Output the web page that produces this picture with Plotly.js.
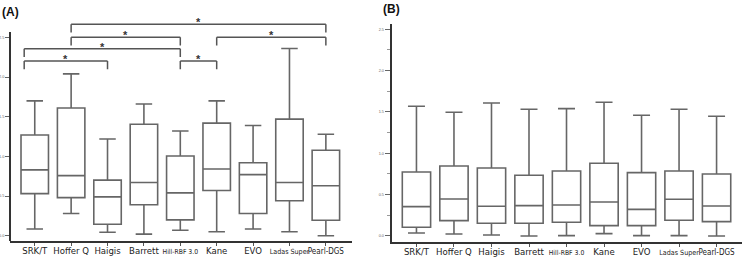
<!DOCTYPE html>
<html><head><meta charset="utf-8">
<script src="https://cdn.plot.ly/plotly-3.0.1.min.js"></script>
<style>html,body{margin:0;padding:0;background:#fff}#chart{width:744px;height:258px}</style>
</head><body><div id="chart"></div>
<script>
const categories = ['SRK/T','Hoffer Q','Haigis','Barrett','Hill-RBF 3.0','Kane','EVO','Ladas Super','Pearl-DGS'];

// Panel A
const aLower  = [0.085, 0.28, 0.043, 0.02, 0.068, 0.05, 0.085, 0.05, 0.0];
const aQ1     = [0.53, 0.48, 0.144, 0.39, 0.20, 0.57, 0.28, 0.44, 0.194];
const aMedian = [0.83, 0.757, 0.49, 0.67, 0.54, 0.84, 0.77, 0.67, 0.63];
const aQ3     = [1.27, 1.61, 0.70, 1.405, 1.005, 1.42, 0.92, 1.47, 1.077];
const aUpper  = [1.70, 2.04, 1.22, 1.66, 1.32, 1.70, 1.39, 2.36, 1.28];

// Panel B
const bLower  = [0.036, 0.024, 0.012, 0.0, 0.004, 0.028, 0.004, 0.004, 0.0];
const bQ1     = [0.105, 0.185, 0.153, 0.153, 0.165, 0.125, 0.125, 0.19, 0.173];
const bMedian = [0.355, 0.447, 0.359, 0.367, 0.375, 0.411, 0.322, 0.444, 0.363];
const bQ3     = [0.774, 0.846, 0.822, 0.734, 0.786, 0.879, 0.766, 0.786, 0.75];
const bUpper  = [1.568, 1.496, 1.608, 1.532, 1.54, 1.617, 1.459, 1.532, 1.447];

// Significant pairwise comparisons (panel A)
const sigFrom  = ['Hoffer Q', 'Hoffer Q', 'Kane', 'SRK/T', 'SRK/T', 'Hill-RBF 3.0'];
const sigTo    = ['Pearl-DGS', 'Hill-RBF 3.0', 'Pearl-DGS', 'Hill-RBF 3.0', 'Haigis', 'Kane'];
const sigLabel = ['*', '*', '*', '*', '*', '*'];

// ---- drawing ----
const W = 744, H = 258;
const boxLine = '#666', axisCol = '#333';
const narrow = 'Liberation Sans Narrow, DejaVu Sans Condensed, Arial Narrow, sans-serif';

function boxTrace(xa, ya, lo, q1, med, q3, hi) {
  return {
    type: 'box', x: categories, lowerfence: lo, q1: q1, median: med, q3: q3, upperfence: hi,
    xaxis: xa, yaxis: ya, boxpoints: false, fillcolor: 'rgba(255,255,255,0)',
    line: {color: boxLine, width: 1.6}, whiskerwidth: 0.6, width: 0.755,
    hoverinfo: 'skip', showlegend: false
  };
}

const data = [
  boxTrace('x', 'y', aLower, aQ1, aMedian, aQ3, aUpper),
  boxTrace('x2', 'y2', bLower, bQ1, bMedian, bQ3, bUpper)
];

// condensed look for the long labels
const labelSize = {'Hill-RBF 3.0': 6.8, 'Ladas Super': 7.1, 'Pearl-DGS': 8};
const tickText = categories.map(c => labelSize[c]
  ? '<span style="font-size:' + labelSize[c] + 'px">' + c + '</span>' : c);

const xTickFont = {family: narrow, size: 9.5, color: '#222'};
const yTickFont = {family: 'Liberation Sans, Arial, sans-serif', size: 3.8, color: '#666'};

// bracket layout heights (data units) for each comparison
const bracketTop = [2.666, 2.502, 2.502, 2.358, 2.203, 2.203];
const bracketLeg = 0.105;

const shapes = [];
const annotations = [];
function xPos(cat) {
  const i = categories.indexOf(cat);
  return i === 0 ? i - 0.29 : i;
}
for (let k = 0; k < sigFrom.length; k++) {
  const x0 = xPos(sigFrom[k]), x1 = xPos(sigTo[k]);
  const yt = bracketTop[k], yb = yt - bracketLeg;
  const ln = {color: '#555', width: 1.5};
  shapes.push({type: 'line', xref: 'x', yref: 'y', x0: x0, x1: x1, y0: yt, y1: yt, line: ln});
  shapes.push({type: 'line', xref: 'x', yref: 'y', x0: x0, x1: x0, y0: yt, y1: yb, line: ln});
  shapes.push({type: 'line', xref: 'x', yref: 'y', x0: x1, x1: x1, y0: yt, y1: yb, line: ln});
  annotations.push({xref: 'x', yref: 'y', x: (x0 + x1) / 2, y: yt, text: '<b>' + sigLabel[k] + '</b>',
    showarrow: false, yanchor: 'middle', yshift: 2,
    font: {family: 'Liberation Sans, Arial, sans-serif', size: 11, color: '#333'}});
}
// panel A y-axis line (stops below the brackets)
shapes.push({type: 'line', xref: 'paper', yref: 'y', x0: 10 / W, x1: 10 / W, y0: -0.067, y1: 2.57,
  line: {color: axisCol, width: 2}});

annotations.push({xref: 'paper', yref: 'paper', x: 0, y: 1 - 12 / H, xanchor: 'left', yanchor: 'middle',
  text: '<b>(A)</b>', showarrow: false, font: {family: 'Liberation Sans, Arial, sans-serif', size: 12, color: '#111'}});
annotations.push({xref: 'paper', yref: 'paper', x: 381 / W, y: 1 - 8.5 / H, xanchor: 'left', yanchor: 'middle',
  text: '<b>(B)</b>', showarrow: false, font: {family: 'Liberation Sans, Arial, sans-serif', size: 12, color: '#111'}});

const xCommon = {type: 'category', showline: true, linecolor: axisCol, linewidth: 1.5,
  ticks: 'outside', ticklen: 3, tickcolor: '#555', tickangle: 0, automargin: false,
  ticklabelstandoff: -3, tickvals: categories, ticktext: tickText,
  tickfont: xTickFont, showgrid: false, zeroline: false, fixedrange: true};

const layout = {
  width: W, height: H, margin: {l: 0, r: 0, t: 0, b: 0},
  paper_bgcolor: '#fff', plot_bgcolor: 'rgba(0,0,0,0)',
  showlegend: false,
  xaxis: Object.assign({}, xCommon, {domain: [10 / W, 351.7 / W], anchor: 'y', range: [-0.68, 8.71]}),
  yaxis: {domain: [17 / H, 240 / H], anchor: 'x', range: [-0.067, 2.745], automargin: false,
    showline: false, tickvals: [0, 0.5, 1, 1.5, 2, 2.5], ticktext: ['0.0', '0.5', '1.0', '1.5', '2.0', '2.5'],
    ticks: 'outside', ticklen: 4, tickcolor: '#666', ticklabelstandoff: 0, tickfont: yTickFont,
    showgrid: false, zeroline: false, fixedrange: true},
  xaxis2: Object.assign({}, xCommon, {domain: [391.7 / W, 741.7 / W], anchor: 'y2', range: [-0.66, 8.67]}),
  yaxis2: {domain: [16 / H, 234 / H], anchor: 'x2', range: [-0.073, 2.563], automargin: false,
    showline: true, linecolor: axisCol, linewidth: 2, tick0: 0, dtick: 0.5, tickformat: '.1f',
    ticks: 'outside', ticklen: 5, tickcolor: '#666', ticklabelstandoff: 0, tickfont: yTickFont,
    minor: {dtick: 0.25, tick0: 0, ticks: 'outside', ticklen: 3, tickcolor: '#999'},
    showgrid: false, zeroline: false, fixedrange: true},
  shapes: shapes,
  annotations: annotations
};

Plotly.newPlot('chart', data, layout, {staticPlot: true, displayModeBar: false});
</script>
</body></html>
